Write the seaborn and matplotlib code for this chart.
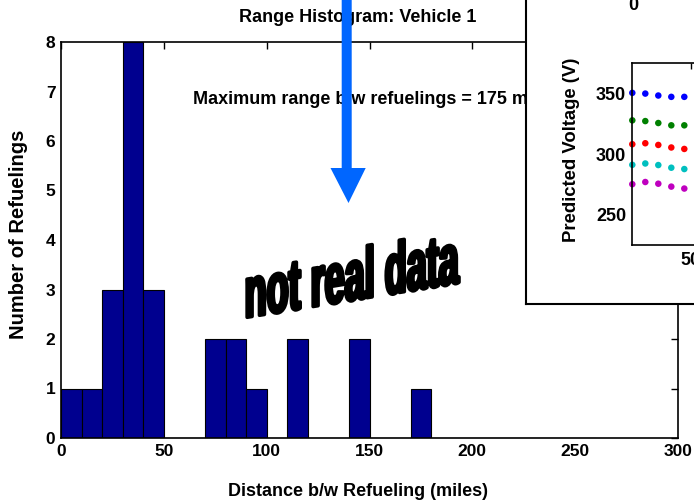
import numpy as np
import pandas as pd
import matplotlib
matplotlib.use("Agg")
import matplotlib.pyplot as plt
import seaborn as sns
from matplotlib.patches import Polygon, PathPatch
from matplotlib.textpath import TextPath
from matplotlib.font_manager import FontProperties
from matplotlib.transforms import Affine2D

# ---------------- data ----------------
bin_edges = list(range(0, 270, 10))          # 0..260 miles, 10-mile bins
bin_counts = [1, 1, 3, 8, 3, 0, 0, 2, 2, 1, 0, 2, 0, 0, 2, 0, 0, 1,
              0, 0, 0, 0, 0, 0, 0, 0]
x_ticks = [0, 50, 100, 150, 200, 250, 300]
y_ticks = [0, 1, 2, 3, 4, 5, 6, 7, 8]

inset_x = [5, 15, 25, 35, 45]
volt_blue = [350.6, 350.0, 348.4, 347.3, 347.3]
volt_green = [327.9, 327.3, 325.7, 323.8, 323.8]
volt_red = [308.2, 309.0, 307.6, 305.5, 304.3]
volt_cyan = [291.2, 292.3, 291.0, 288.8, 287.7]
volt_magenta = [275.2, 277.0, 275.6, 273.2, 271.6]
series_names = ["b", "g", "r", "c", "m"]
series_colors = ["#0000FF", "#008000", "#FF0000", "#00BFBF", "#BF00BF"]

title_text = "Range Histogram: Vehicle 1"
note_text = "Maximum range b/w refuelings = 175 miles"
xlabel_text = "Distance b/w Refueling (miles)"
ylabel_text = "Number of Refuelings"
inset_ylabel = "Predicted Voltage (V)"
stamp_text = "not real data"

# ---------------- style ----------------
sns.set_theme(style="white")
plt.rcParams["font.family"] = ["Liberation Sans", "DejaVu Sans"]
plt.rcParams["font.weight"] = "bold"
plt.rcParams["axes.labelweight"] = "bold"
plt.rcParams["text.color"] = "black"
plt.rcParams["axes.labelcolor"] = "black"
plt.rcParams["xtick.color"] = "black"
plt.rcParams["ytick.color"] = "black"

W, H = 694, 503
fig = plt.figure(figsize=(W / 100, H / 100), dpi=100)
fig.patch.set_facecolor("white")


def fx(px):
    return px / W


def fy(py):
    return 1 - py / H


# ---------------- main histogram ----------------
ax = fig.add_axes([fx(61), fy(438), fx(678) - fx(61), fy(42) - fy(438)])
ax.set_facecolor("white")
centers = [e + 5 for e in bin_edges[:-1]]
sns.histplot(x=centers, weights=bin_counts, bins=bin_edges, ax=ax,
             color="#00008F", edgecolor="black", linewidth=0.8, alpha=1.0)
ax.set_xlim(0, 300)
ax.set_ylim(0, 8)
ax.set_xticks(x_ticks)
ax.set_yticks(y_ticks)
ax.set_xlabel("")
ax.set_ylabel("")
ax.tick_params(direction="in", length=5, width=1, top=True, right=True,
               labelsize=12.5, pad=4, colors="black")
for s in ax.spines.values():
    s.set_visible(True)
    s.set_color("black")
    s.set_linewidth(1.2)

ax.text(fx(357.5), fy(18), title_text, transform=fig.transFigure,
        ha="center", va="center", fontsize=13, fontweight="bold")
ax.text(fx(193), fy(99), note_text, transform=fig.transFigure,
        ha="left", va="center", fontsize=13, fontweight="bold")
ax.text(fx(358), fy(492), xlabel_text, transform=fig.transFigure,
        ha="center", va="center", fontsize=13, fontweight="bold")
ax.text(fx(18.5), fy(234), ylabel_text, transform=fig.transFigure,
        ha="center", va="center", rotation=90, fontsize=14.5,
        fontweight="bold")

# ---------------- inset panel ----------------
panel = fig.add_axes([fx(526), fy(304), 0.4, 0.7])
panel.set_facecolor("white")
panel.set_xticks([])
panel.set_yticks([])
for s in panel.spines.values():
    s.set_visible(True)
    s.set_color("black")
    s.set_linewidth(1.5)
panel.text(fx(633), fy(6), "0", transform=fig.transFigure,
           ha="center", va="center", fontsize=13, fontweight="bold")

inner_w = 0.2
iax = fig.add_axes([fx(632.3), fy(245), inner_w, fy(63.3) - fy(245)])
iax.set_facecolor("white")
df = pd.DataFrame({
    "x": inset_x * 5,
    "v": volt_blue + volt_green + volt_red + volt_cyan + volt_magenta,
    "s": sum([[n] * len(inset_x) for n in series_names], []),
})
sns.scatterplot(data=df, x="x", y="v", hue="s", palette=series_colors,
                s=22, linewidth=0, ax=iax, legend=False, clip_on=False)
iax.set_xlim(5, 5 + inner_w * W / 1.3)
iax.set_ylim(225, 375)
iax.set_xticks([50, 100])
iax.set_yticks([250, 300, 350])
iax.set_xlabel("")
iax.set_ylabel("")
iax.tick_params(axis="x", direction="in", length=4, width=1, top=True,
                labelsize=13, pad=5, colors="black")
iax.tick_params(axis="y", direction="out", length=3, width=1,
                labelsize=13, pad=1.5, colors="black")
for s in iax.spines.values():
    s.set_visible(True)
    s.set_color("black")
    s.set_linewidth(1.2)
iax.text(fx(571.5), fy(150), inset_ylabel, transform=fig.transFigure,
         ha="center", va="center", rotation=90, fontsize=13.3,
         fontweight="bold")

# ---------------- blue arrow ----------------
arrow_px = [(341.7, -5), (351.7, -5), (351.7, 168), (365.7, 168),
            (348.5, 203), (330.5, 168), (341.7, 168)]
arrow = Polygon([(fx(a), fy(b)) for a, b in arrow_px], closed=True,
                transform=fig.transFigure, facecolor="#0066FF",
                edgecolor="none", zorder=10)
fig.add_artist(arrow)

# ---------------- "not real data" stamp ----------------
tp = TextPath((0, 0), stamp_text, size=1,
              prop=FontProperties(family="Liberation Sans", weight="bold"))
ext = tp.get_extents()
target_w, target_h = 212, 53
tr = (Affine2D()
      .translate(-ext.x0, -ext.y0)
      .scale(target_w / ext.width, target_h / ext.height)
      .skew(0, np.arctan(0.163))
      .translate(247, H - 318)
      .scale(1 / W, 1 / H)) + fig.transFigure
stamp = PathPatch(tp, transform=tr, facecolor="black", edgecolor="black",
                  linewidth=2.6, joinstyle="round", zorder=11)
fig.add_artist(stamp)

fig.savefig("out.png", dpi=100, facecolor="white")
